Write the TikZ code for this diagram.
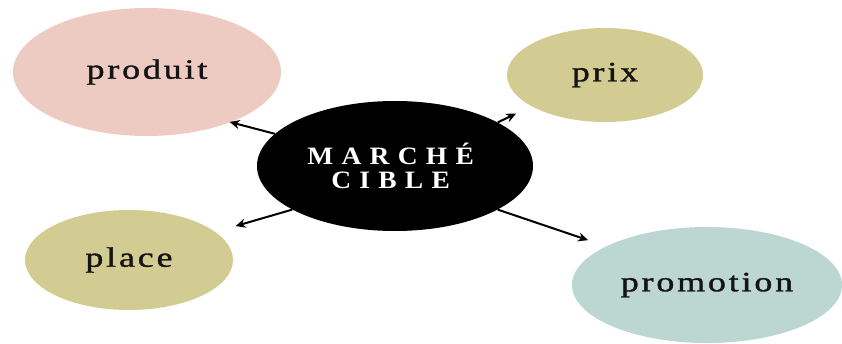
\documentclass[tikz,border=0pt]{standalone}
\usepackage{fontspec}
\setmainfont{Liberation Serif}
\newfontfamily\lblfont[LetterSpace=8,FakeBold=1.2]{Liberation Serif}
\newfontfamily\capfont[LetterSpace=30]{Liberation Serif}
\usetikzlibrary{shapes.geometric,arrows.meta}
\definecolor{pinkc}{HTML}{EDCBC3}
\definecolor{olivec}{HTML}{D2CB92}
\definecolor{tealc}{HTML}{BCD7D1}
\definecolor{txtc}{HTML}{141414}
\tikzset{
  bubble/.style={ellipse, inner sep=0pt, draw=none, text=txtc,
    font=\lblfont\fontsize{28}{30}\selectfont},
  core/.style={ellipse, inner sep=0pt, fill=black, text=white, align=center,
    font=\capfont\bfseries\fontsize{25}{25}\selectfont},
  link/.style={line width=2pt, -{Stealth[length=10pt,width=9pt]}}
}
\newcommand{\widelbl}[1]{\scalebox{1.28}[1]{#1}}
\newcommand{\widecap}[1]{\scalebox{1.1}[1]{#1\hspace*{8pt}}}
\begin{document}
\begin{tikzpicture}[x=1pt,y=1pt]
\useasboundingbox (0,0) rectangle (842,343);
% centres given as (x, 343-y)
\node[core, minimum width=276pt, minimum height=130pt] (c) at (395,177) {\widecap{MARCHÉ}\\[-1pt]\widecap{CIBLE}};
\node[bubble, fill=pinkc, minimum width=268pt, minimum height=128pt] (p) at (147,271) {\raisebox{-4pt}{\widelbl{produit}}};
\node[bubble, fill=olivec, minimum width=208pt, minimum height=100pt] (pl) at (129,83) {\widelbl{place}};
\node[bubble, fill=olivec, minimum width=196pt, minimum height=94pt] (px) at (605,268) {\widelbl{prix}};
\node[bubble, fill=tealc, minimum width=270pt, minimum height=116pt] (pm) at (707,58) {\widelbl{promotion}};
\draw[link, shorten >=-1pt] (c.165) -- (p.-31);
\draw[link, shorten >=21pt] (c.203) -- (pl.18);
\draw[link, shorten >=17pt] (c.23) -- (px.203);
\draw[link, shorten >=19pt] (c.-23) -- (pm.159);
\end{tikzpicture}
\end{document}
